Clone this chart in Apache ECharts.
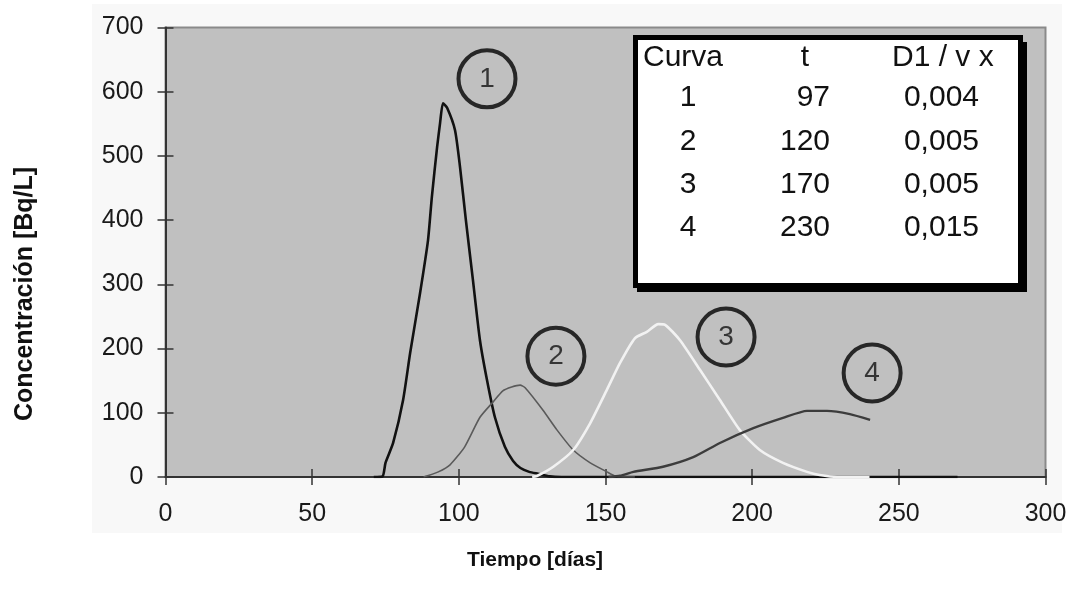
<!DOCTYPE html>
<html>
<head>
<meta charset="utf-8">
<script src="https://cdn.jsdelivr.net/npm/echarts@6/dist/echarts.min.js"></script>
<style>
  html, body { margin: 0; padding: 0; background: #ffffff; }
  #chart { width: 1070px; height: 603px; }
</style>
</head>
<body>
<div id="chart"></div>
<script>
// Breakthrough curves: concentration [Bq/L] against time [days]
const curve1 = [[71,0],[74,1],[75,22],[77.6,53],[81,120],[83.4,193],[86.8,287],[89.5,369],[90.8,436],[92.6,514],[93.6,551],[94.6,582],[96,575],[98.7,540],[100.4,483],[102.4,400],[104.8,307],[107.2,213],[109.6,151],[112.3,93],[115.7,47],[118.5,25],[121,14],[124,8],[127,5],[131,1],[135,0],[270,0]];
const curve2 = [[88,0],[89,1.5],[93,8],[97,19],[102,47],[107.2,93],[111.7,117],[115,134],[118,140],[120.9,143],[122.6,139],[128.7,104],[133.5,73],[139,42],[144.8,22],[150.5,8],[153,2],[156,0],[160,0]];
const curve3 = [[125,0],[126.6,1.5],[132.2,16],[139,42],[144.8,84],[150.5,136],[155,178],[160,216],[164.1,226],[168,238],[170.3,237],[175.4,213],[182.2,167],[189,120],[195.8,73],[202.6,42],[210.5,22],[218.7,8],[223,3],[229,0],[240,0]];
const curve4 = [[151,0],[155,2],[159.5,8],[169.6,16],[179.9,31],[189,53],[200.4,76],[210.5,92],[218.7,103],[225.5,103],[233.3,98],[240.2,89]];

// Circled curve numbers, placed in data coordinates
const curveTags = [[109.6,620,'1'],[133.1,188,'2'],[191.1,218,'3'],[240.9,162,'4']];

// Parameter table
const tableHeader = ['Curva', 't', 'D1 / v x'];
const tableCurva = ['1','2','3','4'];
const tableT = ['97','120','170','230'];
const tableD = ['0,004','0,005','0,005','0,015'];

// Axis titles
const xTitle = 'Tiempo [días]';
const yTitle = 'Concentración [Bq/L]';

const FONT = '"Liberation Sans", Arial, sans-serif';

const chart = echarts.init(document.getElementById('chart'), null, { renderer: 'canvas' });

const tableGraphics = [];
tableGraphics.push({ type: 'rect', shape: { x: 637, y: 42, width: 390, height: 250 }, style: { fill: '#000' }, z: 100 });
tableGraphics.push({ type: 'rect', shape: { x: 635.5, y: 37.5, width: 385, height: 248 }, style: { fill: '#fff', stroke: '#000', lineWidth: 5 }, z: 101 });
const txt = (x, y, s, align) => ({
  type: 'text', x: x, y: y, z: 102,
  style: { text: s, fill: '#111', font: '30px ' + FONT, textAlign: align, textVerticalAlign: 'middle' }
});
tableGraphics.push(txt(643, 58, tableHeader[0], 'left'));
tableGraphics.push(txt(805, 58, tableHeader[1], 'center'));
tableGraphics.push(txt(892, 58, tableHeader[2], 'left'));
for (let i = 0; i < tableCurva.length; i++) {
  const y = 98 + i * 43.3;
  tableGraphics.push(txt(688, y, tableCurva[i], 'center'));
  tableGraphics.push(txt(830, y, tableT[i], 'right'));
  tableGraphics.push(txt(979, y, tableD[i], 'right'));
}

const titleGraphics = [
  {
    type: 'text', x: 535, y: 560, z: 50,
    style: { text: xTitle, fill: '#111', font: 'bold 21px ' + FONT, textAlign: 'center', textVerticalAlign: 'middle' }
  },
  {
    type: 'text', x: 25, y: 294, rotation: Math.PI / 2, z: 50,
    style: { text: yTitle, fill: '#111', font: 'bold 25px ' + FONT, textAlign: 'center', textVerticalAlign: 'middle' }
  }
];

const lineSeries = (data, color, width, z) => ({
  type: 'line', data: data, xAxisIndex: 0, yAxisIndex: 0,
  showSymbol: false, symbol: 'none', smooth: 0.2, z: z,
  lineStyle: { color: color, width: width }, animation: false
});

chart.setOption({
  animation: false,
  backgroundColor: '#ffffff',
  graphic: [
    { type: 'rect', shape: { x: 92, y: 4, width: 970, height: 529 }, style: { fill: '#f8f8f8' }, z: -10, silent: true }
  ].concat(tableGraphics, titleGraphics),
  grid: {
    left: 165.5, right: 24.5, top: 27.5, bottom: 126,
    show: true, backgroundColor: '#c0c0c0', borderColor: '#8a8a8a', borderWidth: 2
  },
  xAxis: [
    {
      type: 'value', min: 0, max: 300, interval: 50,
      axisLine: { show: true, lineStyle: { color: '#333', width: 2 } },
      axisTick: { show: true, length: 8, lineStyle: { color: '#333', width: 1.5 } },
      axisLabel: { margin: 25, fontFamily: FONT, fontSize: 25, color: '#1a1a1a' },
      splitLine: { show: false }
    },
    {
      type: 'value', min: 0, max: 300, interval: 50, position: 'bottom',
      axisLine: { show: false },
      axisTick: { show: true, inside: true, length: 8, lineStyle: { color: '#333', width: 1.5 } },
      axisLabel: { show: false }, splitLine: { show: false }
    }
  ],
  yAxis: [
    {
      type: 'value', min: 0, max: 700, interval: 100,
      axisLine: { show: true, lineStyle: { color: '#333', width: 2 } },
      axisTick: { show: true, length: 8, lineStyle: { color: '#333', width: 1.5 } },
      axisLabel: { margin: 22, fontFamily: FONT, fontSize: 25, color: '#1a1a1a' },
      splitLine: { show: false }
    },
    {
      type: 'value', min: 0, max: 700, interval: 100, position: 'left',
      axisLine: { show: false },
      axisTick: { show: true, inside: true, length: 8, lineStyle: { color: '#333', width: 1.5 } },
      axisLabel: { show: false }, splitLine: { show: false }
    }
  ],
  series: [
    lineSeries(curve1, '#111111', 2.6, 3),
    lineSeries(curve2, '#5a5a5a', 1.6, 4),
    lineSeries(curve3, '#f2f2f2', 2.6, 5),
    lineSeries(curve4, '#3c3c3c', 2.4, 6),
    {
      type: 'scatter', xAxisIndex: 0, yAxisIndex: 0, z: 10,
      data: curveTags.map(t => ({ value: [t[0], t[1]], name: t[2] })),
      symbol: 'circle', symbolSize: 57,
      itemStyle: { color: 'rgba(0,0,0,0)', borderColor: '#000', borderWidth: 4 },
      label: {
        show: true, position: 'inside', formatter: p => p.name,
        fontFamily: FONT, fontSize: 28, color: '#111'
      },
      emphasis: { disabled: true }, animation: false
    }
  ]
});
</script>
</body>
</html>
